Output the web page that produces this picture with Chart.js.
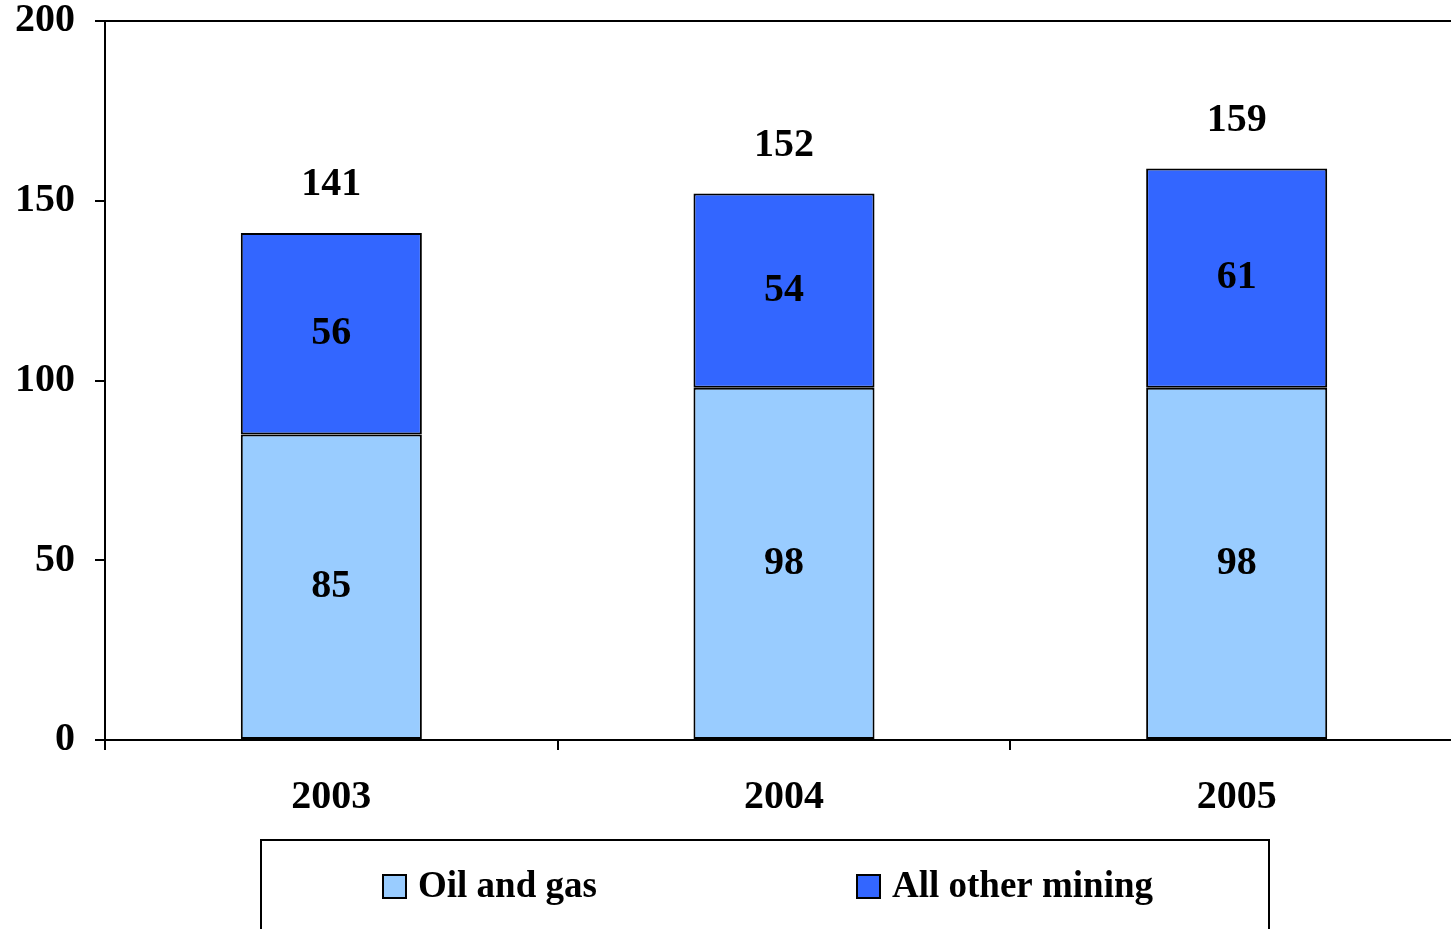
<!DOCTYPE html>
<html>
<head>
<meta charset="utf-8">
<script src="https://cdn.jsdelivr.net/npm/chart.js@4/dist/chart.umd.min.js"></script>
<style>
  html, body { margin: 0; padding: 0; background: #fff; overflow: hidden; }
  #wrap { width: 1463px; height: 929px; }
</style>
</head>
<body>
<div id="wrap"><canvas id="myChart" width="1463" height="929"></canvas></div>
<script>
// data
var years = ['2003', '2004', '2005'];
var oilGas = [85, 98, 98];
var otherMining = [56, 54, 61];
var totals = [141, 152, 159];
var yTicks = [0, 50, 100, 150, 200];

var serif = '"Liberation Serif", "Times New Roman", serif';

// labels inside the segments and the totals on top
var valueLabels = {
    id: 'valueLabels',
    afterDatasetsDraw: function (chart) {
        var ctx = chart.ctx;
        ctx.save();
        ctx.fillStyle = '#000';
        ctx.font = 'bold 40px ' + serif;
        ctx.textAlign = 'center';
        ctx.textBaseline = 'middle';
        chart.data.datasets.forEach(function (ds, i) {
            chart.getDatasetMeta(i).data.forEach(function (bar, j) {
                var mid = (bar.y + bar.base) / 2;
                ctx.fillText(String(ds.data[j]), bar.x, mid);
            });
        });
        var top = chart.getDatasetMeta(chart.data.datasets.length - 1).data;
        top.forEach(function (bar, j) {
            ctx.fillText(String(totals[j]), bar.x, bar.y - 48);
        });
        ctx.restore();
    }
};

// frame round the plot area
var frame = {
    id: 'frame',
    beforeDatasetsDraw: function (chart) {
        var a = chart.chartArea, ctx = chart.ctx;
        ctx.save();
        ctx.strokeStyle = '#000';
        ctx.lineWidth = 2;
        ctx.strokeRect(a.left, a.top, a.right - a.left, a.bottom - a.top);
        ctx.restore();
    }
};

// boxed legend below the axis, like the original
var boxLegend = {
    id: 'boxLegend',
    afterDraw: function (chart) {
        var ctx = chart.ctx;
        ctx.save();
        ctx.strokeStyle = '#000';
        ctx.lineWidth = 2;
        ctx.strokeRect(261, 840, 1008, 120);
        var xs = [383, 857];
        ctx.font = 'bold 37px ' + serif;
        ctx.textBaseline = 'middle';
        ctx.textAlign = 'left';
        chart.data.datasets.forEach(function (ds, i) {
            ctx.fillStyle = ds.backgroundColor;
            ctx.fillRect(xs[i], 875, 23, 23);
            ctx.lineWidth = 2;
            ctx.strokeRect(xs[i], 875, 23, 23);
            ctx.fillStyle = '#000';
            ctx.fillText(ds.label, xs[i] + 35, 887);
        });
        ctx.restore();
    }
};

var ctx = document.getElementById('myChart').getContext('2d');
var myChart = new Chart(ctx, {
    type: 'bar',
    data: {
        labels: years,
        datasets: [
            {
                label: 'Oil and gas',
                data: oilGas,
                backgroundColor: '#99CCFF',
                borderColor: '#000',
                borderWidth: 2,
                borderSkipped: false
            },
            {
                label: 'All other mining',
                data: otherMining,
                backgroundColor: '#3366FF',
                borderColor: '#000',
                borderWidth: 2,
                borderSkipped: false
            }
        ]
    },
    options: {
        responsive: false,
        animation: false,
        layout: { padding: { top: 21, left: 0, right: 0, bottom: 0 } },
        plugins: {
            legend: { display: false },
            tooltip: { enabled: false }
        },
        datasets: {
            bar: { categoryPercentage: 1.0, barPercentage: 0.4 }
        },
        scales: {
            x: {
                stacked: true,
                afterFit: function (scale) {
                    scale.height = 189;
                    scale.paddingLeft = 0;
                    scale.paddingRight = 0;
                },
                grid: {
                    offset: true,
                    drawOnChartArea: false,
                    drawTicks: true,
                    tickLength: 10,
                    color: '#000',
                    lineWidth: 2
                },
                border: { display: true, color: '#000', width: 2 },
                ticks: {
                    color: '#000',
                    padding: 24,
                    font: { family: serif, size: 40, weight: 'bold' }
                }
            },
            y: {
                stacked: true,
                min: 0,
                max: 200,
                afterFit: function (scale) {
                    scale.width = 105;
                    scale.paddingTop = 0;
                    scale.paddingBottom = 0;
                },
                afterBuildTicks: function (scale) {
                    scale.ticks = yTicks.map(function (v) { return { value: v }; });
                },
                grid: {
                    drawOnChartArea: false,
                    drawTicks: true,
                    tickLength: 10,
                    color: '#000',
                    lineWidth: 2
                },
                border: { display: true, color: '#000', width: 2 },
                ticks: {
                    color: '#000',
                    padding: 20,
                    font: { family: serif, size: 40, weight: 'bold' }
                }
            }
        }
    },
    plugins: [frame, valueLabels, boxLegend]
});
</script>
</body>
</html>
